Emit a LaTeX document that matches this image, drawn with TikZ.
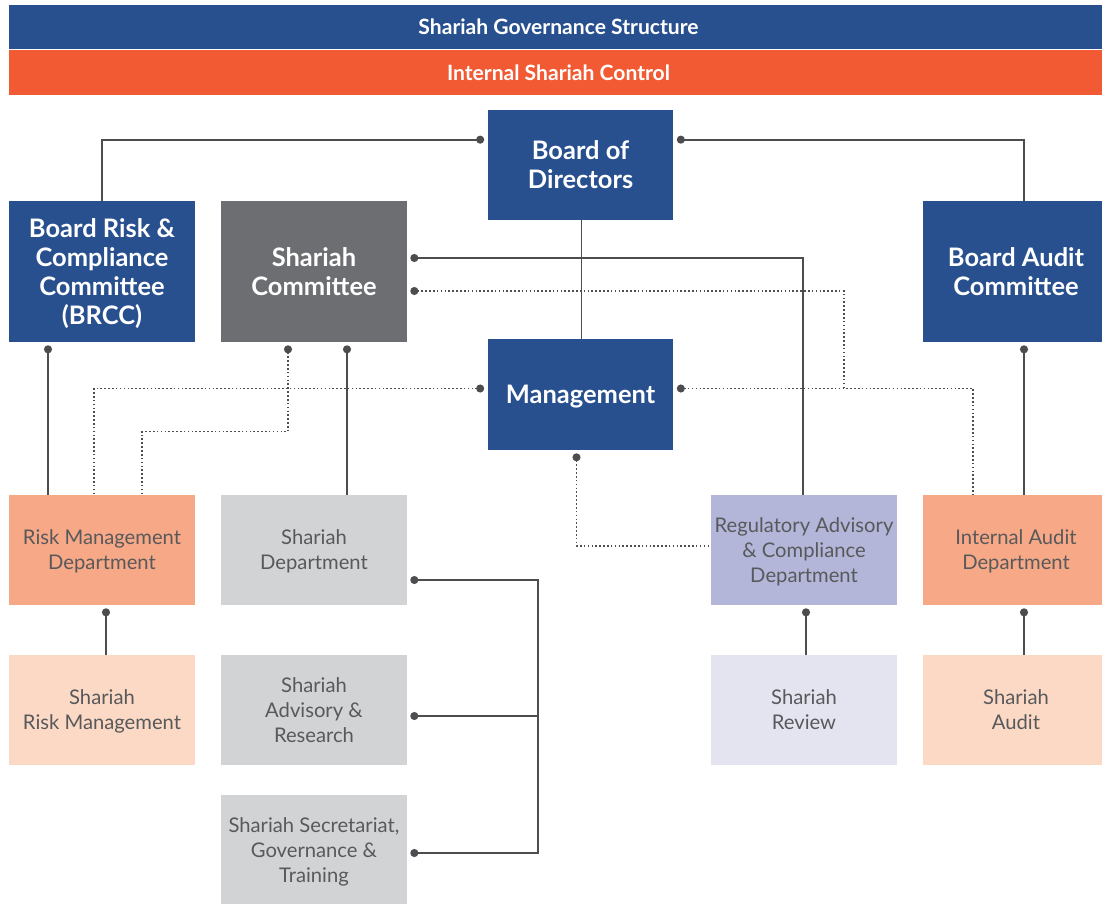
\documentclass[tikz,border=0pt]{standalone}
\usepackage{fontspec}
\setmainfont{Lato}
\usetikzlibrary{calc,arrows.meta}

\definecolor{govblue}{HTML}{28508F}
\definecolor{ctrlorange}{HTML}{F15A32}
\definecolor{scgray}{HTML}{6D6E71}
\definecolor{deptgray}{HTML}{D1D3D4}
\definecolor{salmon}{HTML}{F7A886}
\definecolor{lightsalmon}{HTML}{FBD9C5}
\definecolor{lavender}{HTML}{B3B6D8}
\definecolor{lightlavender}{HTML}{E3E4F0}
\definecolor{txtgray}{HTML}{58595B}
\definecolor{linegray}{HTML}{4D4D4F}

\begin{document}
\begin{tikzpicture}[x=0.02cm,y=-0.02cm,
    box/.style={inner sep=0pt,align=center,text depth=-8pt,minimum width=3.72cm,minimum height=2.2cm},
    board/.style={box,fill=govblue,text=white,font=\fontsize{14.5}{16.5}\selectfont\bfseries},
    dept/.style={box,text=txtgray,font=\fontsize{11.5}{14.2}\selectfont},
    banner/.style={inner sep=0pt,text depth=-6pt,minimum width=21.98cm,text=white,font=\fontsize{12}{13}\selectfont\bfseries},
    link/.style={draw=linegray,line width=1.1pt},
    dotlink/.style={draw=linegray,line width=0.9pt,dash pattern=on 0.9pt off 1.3pt},
    knob/.style={{Circle[length=0.16cm]}-},
    knobs/.style={{Circle[length=0.16cm]}-{Circle[length=0.16cm]}}]
    \useasboundingbox (0,0) rectangle (1102,903);
    % banners
    \node[banner,fill=govblue,minimum height=0.88cm] (gov) at (558.5,27) {Shariah Governance Structure};
    \node[banner,fill=ctrlorange,minimum height=0.9cm] (ctrl) at (558.5,72.5) {Internal Shariah Control};
    % board level
    \node[board] (bod) at (580.5,165) {Board of\\Directors};
    \node[board,minimum height=2.82cm] (brcc) at (102,271.5) {Board Risk \&\\Compliance\\Committee\\(BRCC)};
    \node[board,fill=scgray,minimum height=2.82cm] (sc) at (314,271.5) {Shariah\\Committee};
    \node[board,minimum height=2.82cm] (bac) at (1016,271.5) {Board Audit\\Committee};
    \node[board,minimum height=2.22cm] (mgmt) at (580.5,394.5) {Management};
    % departments
    \node[dept,fill=salmon] (rmd) at (102,550) {Risk Management\\Department};
    \node[dept,fill=deptgray] (sdp) at (314,550) {Shariah\\Department};
    \node[dept,fill=lavender] (reg) at (804,550) {Regulatory Advisory\\\& Compliance\\Department};
    \node[dept,fill=salmon] (iad) at (1016,550) {Internal Audit\\Department};
    \node[dept,fill=lightsalmon] (srm) at (102,710) {Shariah\\Risk Management};
    \node[dept,fill=deptgray] (sar) at (314,710) {Shariah\\Advisory \&\\Research};
    \node[dept,fill=lightlavender] (srv) at (804,710) {Shariah\\Review};
    \node[dept,fill=lightsalmon] (sau) at (1016,710) {Shariah\\Audit};
    \node[dept,fill=deptgray] (ssg) at (314,850) {Shariah Secretariat,\\Governance \&\\Training};

    % solid lines
    \draw[link,knob] ($(bod.north west)+(-3,30)$) -| (brcc.north);
    \draw[link,knob] ($(bod.north east)+(3,30)$) -| ($(bac.north)+(8,0)$);
    \draw[link] ($(bod.south)+(1,0)$) -- ($(mgmt.north)+(1,0)$);
    \draw[link,knob] ($(sc.east)+(3,-13.5)$) -| ($(reg.north)+(-1,0)$);
    \draw[link,knob] ($(sc.south)+(33,3)$) -- ($(sdp.north)+(33,0)$);
    \draw[link,knob] ($(brcc.south)+(-54,3)$) -- ($(rmd.north)+(-54,0)$);
    \draw[link,knob] ($(bac.south)+(8,3)$) -- ($(iad.north)+(8,0)$);
    \draw[link,knob] ($(rmd.south)+(4,3)$) -- ($(srm.north)+(4,0)$);
    \draw[link,knob] ($(reg.south)+(2,3)$) -- ($(srv.north)+(2,0)$);
    \draw[link,knob] ($(iad.south)+(8,3)$) -- ($(sau.north)+(8,0)$);
    \draw[link,knobs] ($(sdp.east)+(3,30)$) -| ($(ssg.east)+(131,3)$) -- ($(ssg.east)+(3,3)$);
    \draw[link,knob] ($(sar.east)+(3,6)$) -- ($(sar.east)+(131,6)$);
    % dotted lines
    \draw[dotlink,knob] ($(sc.east)+(3,19.5)$) -| ($(mgmt.east)+(170,-6)$);
    \draw[dotlink,knob] ($(mgmt.east)+(3,-6)$) -| ($(iad.north)+(-43,0)$);
    \draw[dotlink,knob] ($(mgmt.west)+(-3,-6)$) -| ($(rmd.north)+(-8,0)$);
    \draw[dotlink,knob] ($(sc.south)+(-26,3)$) |- ($(rmd.north)+(40,-63)$) -- ($(rmd.north)+(40,0)$);
    \draw[dotlink,knob] ($(mgmt.south)+(-4,3)$) |- ($(reg.west)+(0,-4)$);
\end{tikzpicture}
\end{document}
